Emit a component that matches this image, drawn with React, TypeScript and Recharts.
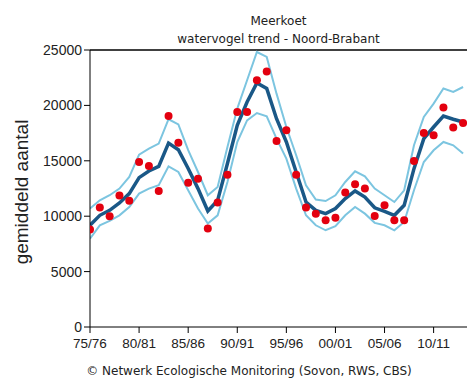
import React from "react";
import { ComposedChart, Line, XAxis, YAxis, ReferenceLine } from "recharts";

// seizoenen 75/76 t/m 13/14
const seasons = [
  "75/76", "76/77", "77/78", "78/79", "79/80", "80/81", "81/82", "82/83", "83/84", "84/85",
  "85/86", "86/87", "87/88", "88/89", "89/90", "90/91", "91/92", "92/93", "93/94", "94/95",
  "95/96", "96/97", "97/98", "98/99", "99/00", "00/01", "01/02", "02/03", "03/04", "04/05",
  "05/06", "06/07", "07/08", "08/09", "09/10", "10/11", "11/12", "12/13", "13/14",
];

const counts = [
  8790, 10780, 9990, 11860, 11400, 14900, 14530, 12270, 19040, 16640,
  13030, 13390, 8880, 11230, 13750, 19400, 19400, 22270, 23050, 16790,
  17750, 13750, 10780, 10230, 9630, 9870, 12130, 12880, 12490, 10020,
  10980, 9630, 9630, 14980, 17510, 17300, 19800, 18000, 18410,
];

const trend = [
  9180, 10080, 10530, 11190, 12040, 13480, 14080, 14500, 16600, 16000,
  14300, 12490, 10470, 11430, 14750, 18200, 20310, 22020, 21520, 18800,
  16700, 13990, 11280, 10530, 10230, 10690, 11590, 12280, 11730, 10760,
  10440, 10080, 10980, 14290, 17000, 18050, 19040, 18750, 18500,
];

const upper = [
  10690, 11430, 11890, 12490, 13540, 15560, 16100, 16550, 18750, 18290,
  15970, 13990, 11890, 12640, 16250, 19710, 22270, 24820, 24370, 21060,
  18050, 15500, 12790, 11500, 11370, 11890, 13090, 14050, 13600, 12490,
  11890, 11280, 12340, 16400, 18950, 20160, 21520, 21210, 21660,
];

const lower = [
  7980, 9180, 9570, 10080, 10830, 12040, 12490, 12790, 14500, 13990,
  12340, 10690, 9330, 10080, 13090, 16700, 18650, 19310, 19020, 17000,
  15200, 12490, 10080, 9180, 8730, 9090, 10080, 10830, 10230, 9400,
  9180, 8730, 9480, 12340, 14890, 15950, 16700, 16400, 15650,
];

const xTicks = [0, 5, 10, 15, 20, 25, 30, 35];
const yTicks = [0, 5000, 10000, 15000, 20000, 25000];

const data = seasons.map((s, i) => ({
  i,
  season: s,
  count: counts[i],
  trend: trend[i],
  upper: upper[i],
  lower: lower[i],
}));

const arial = "'Liberation Sans', Arial, sans-serif";
const dejavu = "'DejaVu Sans', Verdana, sans-serif";

export default function App() {
  return (
    <div style={{ position: "absolute", left: 0, top: 0, width: 467, height: 383, overflow: "hidden", background: "#fff" }}>
      <div style={{ position: "absolute", left: 90, width: 377, top: 12, textAlign: "center", fontFamily: dejavu, fontSize: 12, lineHeight: "18px", color: "#222" }}>
        Meerkoet
        <br />
        watervogel trend - Noord-Brabant
      </div>
      <div
        style={{
          position: "absolute", left: 22, top: 192, transform: "translate(-50%, -50%) rotate(-90deg)",
          whiteSpace: "nowrap", fontFamily: arial, fontSize: 19, color: "#222",
        }}
      >
        gemiddeld aantal
      </div>
      <ComposedChart width={467} height={383} data={data} margin={{ top: 50, right: 0, bottom: 26, left: 0 }}>
        <XAxis
          dataKey="i"
          type="number"
          domain={[0, 38.4]}
          ticks={xTicks}
          tickFormatter={(v: number) => seasons[v]}
          tickSize={6}
          tickMargin={5}
          height={30}
          stroke="#000"
          tick={{ fontSize: 13.5, fontFamily: arial, fill: "#222" }}
          allowDataOverflow
        />
        <YAxis
          domain={[0, 25000]}
          ticks={yTicks}
          width={90}
          tickSize={6}
          stroke="#000"
          tick={{ fontSize: 14, fontFamily: arial, fill: "#222" }}
          allowDataOverflow
        />
        <ReferenceLine y={25000} stroke="#000" strokeWidth={1.5} />
        <Line dataKey="upper" stroke="#7cc5e0" strokeWidth={2} dot={false} isAnimationActive={false} />
        <Line dataKey="lower" stroke="#7cc5e0" strokeWidth={2} dot={false} isAnimationActive={false} />
        <Line dataKey="trend" stroke="#1a5887" strokeWidth={3.5} dot={false} isAnimationActive={false} />
        <Line
          dataKey="count"
          stroke="none"
          dot={{ r: 4, fill: "#e3000f", stroke: "none" }}
          isAnimationActive={false}
        />
      </ComposedChart>
      <div style={{ position: "absolute", left: 0, width: 498, top: 364, textAlign: "center", fontFamily: dejavu, fontSize: 12, color: "#222" }}>
        © Netwerk Ecologische Monitoring (Sovon, RWS, CBS)
      </div>
    </div>
  );
}
